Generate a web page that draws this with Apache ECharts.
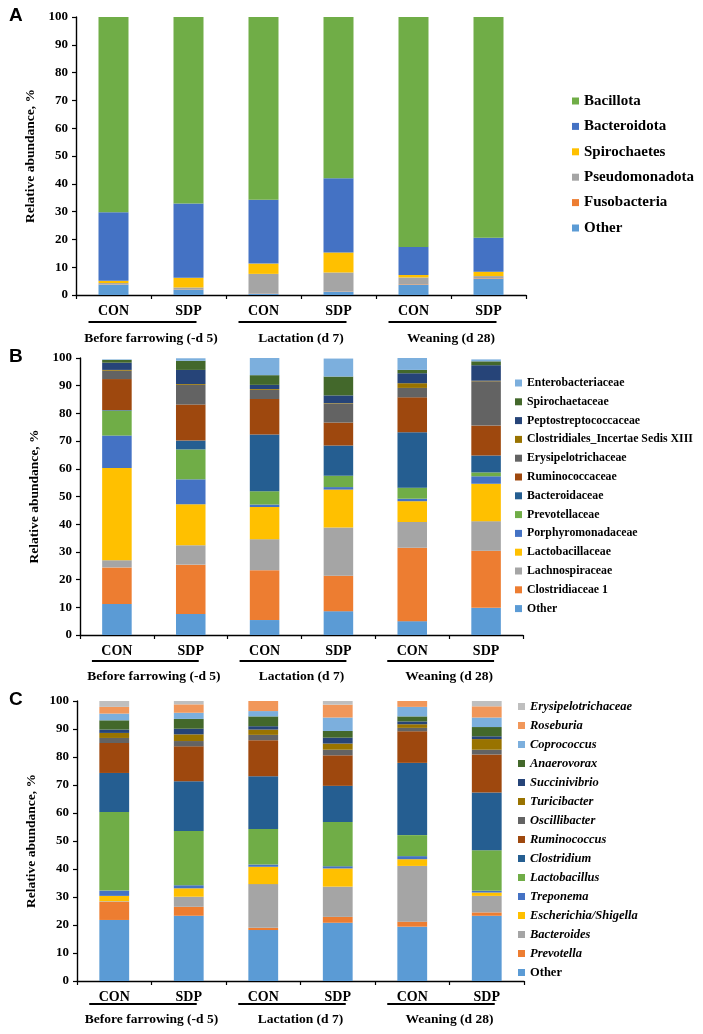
<!DOCTYPE html>
<html>
<head>
<meta charset="utf-8">
<script src="https://cdn.jsdelivr.net/npm/echarts@6/dist/echarts.min.js"></script>
<style>
html,body{margin:0;padding:0;background:#fff;}
#chart{width:703px;height:1034px;}
</style>
</head>
<body>
<div id="chart"></div>
<script>
// ---------- shared categories ----------
const groups = ['CON', 'SDP', 'CON', 'SDP', 'CON', 'SDP'];
const periods = ['Before farrowing (-d 5)', 'Lactation (d 7)', 'Weaning (d 28)'];
const yTicks = [0, 10, 20, 30, 40, 50, 60, 70, 80, 90, 100];
const yName = 'Relative abundance, %';

// ---------- Panel A: phyla (bottom -> top) ----------
const A_names = ['Other', 'Fusobacteria', 'Pseudomonadota', 'Spirochaetes', 'Bacteroidota', 'Bacillota'];
const A_Other          = [3.7, 1.8, 0.5, 1.2, 3.6, 5.8];
const A_Fusobacteria   = [0.1, 0.1, 0.1, 0.1, 0.2, 0.2];
const A_Pseudomonadota = [0.5, 0.8, 7.0, 6.8, 2.5, 0.8];
const A_Spirochaetes   = [0.8, 3.5, 3.7, 7.2, 0.9, 1.6];
const A_Bacteroidota   = [24.7, 26.7, 23.0, 26.7, 10.1, 12.2];
const A_Bacillota      = [70.2, 67.1, 65.7, 58.0, 82.7, 79.4];

// ---------- Panel B: families (bottom -> top) ----------
const B_names = ['Other', 'Clostridiaceae 1', 'Lachnospiraceae', 'Lactobacillaceae', 'Porphyromonadaceae',
  'Prevotellaceae', 'Bacteroidaceae', 'Ruminococcaceae', 'Erysipelotrichaceae',
  'Clostridiales_Incertae Sedis XIII', 'Peptostreptococcaceae', 'Spirochaetaceae', 'Enterobacteriaceae'];
const B_Other               = [11.2, 7.6, 5.4, 8.6, 5.0, 9.8];
const B_Clostridiaceae1     = [13.2, 17.8, 18.0, 12.8, 26.5, 20.6];
const B_Lachnospiraceae     = [2.6, 7.0, 11.2, 17.4, 9.3, 10.7];
const B_Lactobacillaceae    = [33.3, 14.8, 11.6, 13.7, 7.5, 13.5];
const B_Porphyromonadaceae  = [11.7, 9.0, 0.9, 0.9, 0.9, 2.7];
const B_Prevotellaceae      = [9.0, 10.8, 4.8, 4.1, 4.0, 1.4];
const B_Bacteroidaceae      = [0.2, 3.2, 20.5, 10.9, 20.0, 6.1];
const B_Ruminococcaceae     = [11.2, 13.0, 12.8, 8.3, 12.6, 10.8];
const B_Erysipelotrichaceae = [3.0, 7.1, 3.3, 6.8, 3.4, 16.0];
const B_IncertaeSedisXIII   = [0.3, 0.3, 0.3, 0.2, 1.7, 0.2];
const B_Peptostreptococcaceae = [2.6, 5.1, 1.5, 2.8, 3.6, 5.6];
const B_Spirochaetaceae     = [1.0, 3.3, 3.5, 6.8, 1.2, 1.4];
const B_Enterobacteriaceae  = [0.2, 0.9, 6.2, 6.5, 4.3, 0.7];

// ---------- Panel C: genera (bottom -> top) ----------
const C_names = ['Other', 'Prevotella', 'Bacteroides', 'Escherichia/Shigella', 'Treponema', 'Lactobacillus',
  'Clostridium', 'Ruminococcus', 'Oscillibacter', 'Turicibacter', 'Succinivibrio', 'Anaerovorax',
  'Coprococcus', 'Roseburia', 'Erysipelotrichaceae'];
const C_Other         = [21.8, 23.3, 18.2, 20.8, 19.4, 23.3];
const C_Prevotella    = [6.5, 3.2, 0.8, 2.1, 1.8, 1.2];
const C_Bacteroides   = [0.2, 3.6, 15.6, 10.8, 19.9, 5.9];
const C_Escherichia   = [1.9, 3.0, 6.2, 6.5, 2.4, 1.2];
const C_Treponema     = [1.9, 1.1, 0.8, 0.8, 1.1, 0.6];
const C_Lactobacillus = [28.1, 19.4, 12.7, 15.8, 7.5, 14.5];
const C_Clostridium   = [13.9, 17.7, 18.8, 12.9, 25.8, 20.6];
const C_Ruminococcus  = [10.7, 12.5, 12.9, 10.9, 11.3, 13.6];
const C_Oscillibacter = [1.8, 1.9, 1.9, 2.0, 1.2, 1.7];
const C_Turicibacter  = [1.8, 2.4, 1.9, 2.2, 1.3, 3.8];
const C_Succinivibrio = [1.2, 2.0, 1.2, 2.1, 1.0, 1.0];
const C_Anaerovorax   = [3.3, 3.5, 3.5, 2.4, 1.8, 3.3];
const C_Coprococcus   = [2.4, 2.2, 1.9, 4.8, 3.4, 3.4];
const C_Roseburia     = [2.4, 3.0, 3.6, 4.6, 2.1, 4.0];
const C_Erysipelotrichaceae = [2.1, 1.2, 0.0, 1.3, 0.0, 1.9];

// ---------- styles ----------
const A_colors = ['#5B9BD5', '#ED7D31', '#A5A5A5', '#FFC000', '#4472C4', '#70AD47'];
const B_colors = ['#5B9BD5', '#ED7D31', '#A5A5A5', '#FFC000', '#4472C4', '#70AD47', '#255E91',
  '#9E480E', '#636363', '#997300', '#264478', '#43682B', '#7CAFDD'];
const C_colors = ['#5B9BD5', '#ED7D31', '#A5A5A5', '#FFC000', '#4472C4', '#70AD47', '#255E91',
  '#9E480E', '#636363', '#997300', '#264478', '#43682B', '#7CAFDD', '#F1975A', '#BFBFBF'];

const A_data = [A_Other, A_Fusobacteria, A_Pseudomonadota, A_Spirochaetes, A_Bacteroidota, A_Bacillota];
const B_data = [B_Other, B_Clostridiaceae1, B_Lachnospiraceae, B_Lactobacillaceae, B_Porphyromonadaceae,
  B_Prevotellaceae, B_Bacteroidaceae, B_Ruminococcaceae, B_Erysipelotrichaceae, B_IncertaeSedisXIII,
  B_Peptostreptococcaceae, B_Spirochaetaceae, B_Enterobacteriaceae];
const C_data = [C_Other, C_Prevotella, C_Bacteroides, C_Escherichia, C_Treponema, C_Lactobacillus,
  C_Clostridium, C_Ruminococcus, C_Oscillibacter, C_Turicibacter, C_Succinivibrio, C_Anaerovorax,
  C_Coprococcus, C_Roseburia, C_Erysipelotrichaceae];

const SERIF = '"Liberation Serif", "Times New Roman", serif';
const panels = [
  { names: A_names, data: A_data, colors: A_colors,
    grid: { left: 76, top: 17, width: 450, height: 278 }, periodOffset: 28, underline: 27,
    legend: { left: 572, top: 93, font: 15, lh: 16, gap: 9.4, italic: false } },
  { names: B_names, data: B_data, colors: B_colors,
    grid: { left: 80, top: 358, width: 443, height: 277 }, periodOffset: 26, underline: 26,
    legend: { left: 515, top: 377, font: 11.8, lh: 12, gap: 6.8, italic: false } },
  { names: C_names, data: C_data, colors: C_colors,
    grid: { left: 77, top: 701, width: 447, height: 280 }, periodOffset: 23, underline: 23,
    legend: { left: 518, top: 700, font: 12.5, lh: 13, gap: 6, italic: true } }
];

const grids = [], xAxes = [], yAxes = [], series = [], legends = [];
panels.forEach((p, pi) => {
  grids.push(Object.assign({ containLabel: false }, p.grid));
  xAxes.push({
    type: 'category', gridIndex: pi, data: groups.map((g, i) => i),
    axisLine: { lineStyle: { color: '#000', width: 1.4 } },
    axisTick: { show: true, alignWithLabel: false, length: 4, lineStyle: { color: '#000', width: 1.2 } },
    axisLabel: { interval: 0, margin: 9, color: '#000', fontFamily: SERIF, fontWeight: 'bold', fontSize: 14,
      formatter: v => groups[v] }
  });
  xAxes.push({
    type: 'category', gridIndex: pi, position: 'bottom', offset: p.periodOffset, data: periods,
    axisLine: { show: false }, axisTick: { show: false },
    axisLabel: { interval: 0, margin: 9, color: '#000', fontFamily: SERIF, fontWeight: 'bold', fontSize: 13.5 }
  });
  yAxes.push({
    type: 'value', gridIndex: pi, min: yTicks[0], max: yTicks[yTicks.length - 1], interval: 10,
    name: yName, nameLocation: 'middle', nameGap: 32,
    nameTextStyle: { color: '#000', fontFamily: SERIF, fontWeight: 'bold', fontSize: 13.5 },
    axisLine: { show: true, lineStyle: { color: '#000', width: 1.4 } },
    axisTick: { show: true, length: 4, lineStyle: { color: '#000', width: 1.2 } },
    splitLine: { show: false },
    axisLabel: { margin: 8, color: '#000', fontFamily: SERIF, fontWeight: 'bold', fontSize: 13 }
  });
  p.names.forEach((n, si) => {
    series.push({
      type: 'bar', name: n, stack: 'panel' + pi, xAxisIndex: pi * 2, yAxisIndex: pi,
      barWidth: '40%', data: p.data[si], itemStyle: { color: p.colors[si] },
      emphasis: { disabled: true }, animation: false
    });
  });
  const lg = {
    orient: 'vertical', left: p.legend.left, top: p.legend.top, padding: 0, itemWidth: 7, itemHeight: 7,
    itemGap: p.legend.gap, icon: 'rect', selectedMode: false,
    textStyle: { color: '#000', fontFamily: SERIF, fontWeight: 'bold', fontSize: p.legend.font,
      lineHeight: p.legend.lh },
    data: p.names.map((n, si) => ({ name: n, itemStyle: { color: p.colors[si] } })).reverse()
  };
  if (p.legend.italic) {
    const base = { color: '#000', fontFamily: SERIF, fontWeight: 'bold', fontSize: p.legend.font, lineHeight: p.legend.lh };
    lg.textStyle.rich = {
      i: Object.assign({ fontStyle: 'italic' }, base),
      n: Object.assign({ fontStyle: 'normal' }, base)
    };
    lg.formatter = name => name === 'Other' ? '{n|' + name + '}' : '{i|' + name + '}';
  }
  legends.push(lg);
});

const chart = echarts.init(document.getElementById('chart'), null, { renderer: 'canvas' });
chart.setOption({
  animation: false,
  backgroundColor: '#fff',
  grid: grids, xAxis: xAxes, yAxis: yAxes, series: series, legend: legends
});

// underlines beneath each CON/SDP pair and panel letters
const graphics = [];
panels.forEach((p, pi) => {
  const y = chart.convertToPixel({ yAxisIndex: pi }, 0) + p.underline;
  for (let k = 0; k < 3; k++) {
    const x1 = chart.convertToPixel({ xAxisIndex: pi * 2 }, 2 * k) - 25;
    const x2 = chart.convertToPixel({ xAxisIndex: pi * 2 }, 2 * k + 1) + 8;
    graphics.push({ type: 'line', shape: { x1: x1, y1: y, x2: x2, y2: y },
      style: { stroke: '#000', lineWidth: 1.8 } });
  }
  const top = chart.convertToPixel({ yAxisIndex: pi }, 100);
  graphics.push({ type: 'text', left: 9, top: top - 11,
    style: { text: ['A', 'B', 'C'][pi], fill: '#000', font: 'bold 19px "Liberation Sans", Arial, sans-serif' } });
});
chart.setOption({ graphic: graphics });
</script>
</body>
</html>
